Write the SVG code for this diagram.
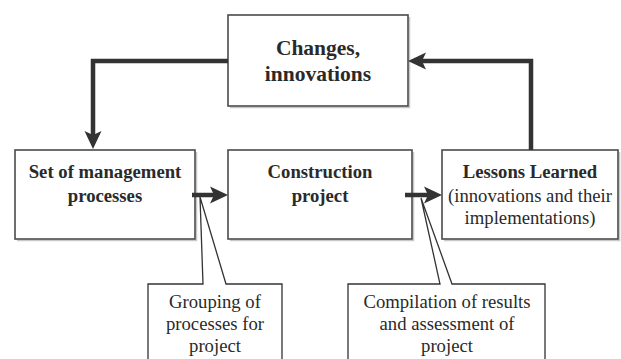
<svg xmlns="http://www.w3.org/2000/svg" width="621" height="359" viewBox="0 0 621 359" font-family="Liberation Serif, DejaVu Serif, serif">
<style>
.box{fill:#fff;stroke:#4a4a4a;stroke-width:1.6}
.shadow{fill:none;stroke:#c8c8c8;stroke-width:1.5}
text{font-family:'Liberation Serif','DejaVu Serif',serif}
.b{font-weight:bold;fill:#2a2a2a;text-anchor:middle}
.r{font-size:18.7px;fill:#2a2a2a;text-anchor:middle}
.conn{fill:none;stroke:#333;stroke-width:4.5;stroke-linejoin:miter}
.call{fill:#fff;stroke:#333;stroke-width:1.3}
</style>
<defs>
<marker id="ah" markerUnits="userSpaceOnUse" viewBox="0 0 18 18" markerWidth="18" markerHeight="18" refX="4" refY="9" orient="auto">
<path d="M0,0.5 L18,9 L0,17.5 L4,9 Z" fill="#333"/>
</marker>
</defs>
<g id="changes">
<path class="shadow" d="M230,107.5 H409.5 V17"/>
<rect class="box" x="228" y="15" width="180" height="91"/>
<text class="b" x="318" y="55" font-size="21.5">Changes,</text>
<text class="b" x="318" y="81" font-size="21.5">innovations</text>
</g>
<g id="management">
<path class="shadow" d="M17,240.5 H196.5 V152"/>
<rect class="box" x="15" y="150" width="180" height="89"/>
<text class="b" x="105" y="178" font-size="18.7">Set of management</text>
<text class="b" x="105" y="202" font-size="18.7">processes</text>
</g>
<g id="construction">
<path class="shadow" d="M230,240.5 H413.5 V152"/>
<rect class="box" x="228" y="150" width="184" height="89"/>
<text class="b" x="320" y="178" font-size="18.7">Construction</text>
<text class="b" x="320" y="202" font-size="18.7">project</text>
</g>
<g id="lessons">
<path class="shadow" d="M444,240.5 H619.5 V152"/>
<rect class="box" x="442" y="150" width="176" height="89"/>
<text class="b" x="530" y="178" font-size="18.7">Lessons Learned</text>
<text class="r" x="530" y="202">(innovations and their</text>
<text class="r" x="530" y="224">implementations)</text>
</g>
<g id="callout-grouping">
<path class="call" d="M148,284 H203 L200,197 L226,284 H282 V365 H148 Z"/>
<text class="r" x="215" y="308">Grouping of</text>
<text class="r" x="215" y="330">processes for</text>
<text class="r" x="215" y="352">project</text>
</g>
<g id="callout-compilation">
<path class="call" d="M348,284 H440 L421,198 L452,284 H545 V365 H348 Z"/>
<text class="r" x="447" y="308">Compilation of results</text>
<text class="r" x="447" y="330">and assessment of</text>
<text class="r" x="447" y="352">project</text>
</g>
<g id="connectors">
<path class="conn" d="M228,61 H93 V135" marker-end="url(#ah)"/>
<path class="conn" d="M531,150 V61 H422" marker-end="url(#ah)"/>
<path class="conn" d="M192,195 H214" marker-end="url(#ah)"/>
<path class="conn" d="M405,195 H428" marker-end="url(#ah)"/>
</g>
</svg>
